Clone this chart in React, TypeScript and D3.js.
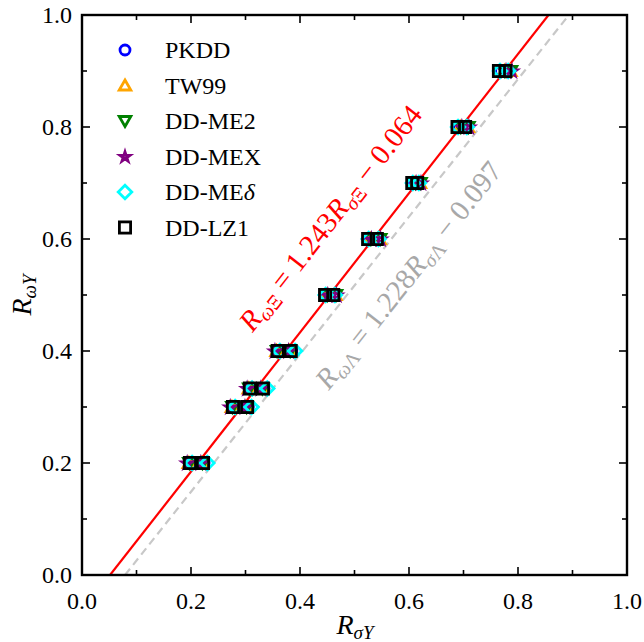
import React from "react";
import * as d3 from "d3";

const levelsY = [0.2, 0.3, 0.333, 0.4, 0.5, 0.6, 0.7, 0.8, 0.9];

const models = ["PKDD", "TW99", "DD-ME2", "DD-MEX", "DD-MEδ", "DD-LZ1"];
const colors = ["#0000ff", "#ffa500", "#008000", "#800080", "#00ffff", "#000000"];
const shapes = ["circle", "triangle", "triangleDown", "star", "diamond", "square"];

const xiPKDD = [0.200, 0.279, 0.310, 0.361, 0.448, 0.527, 0.608, 0.691, 0.768];
const laPKDD = [0.224, 0.305, 0.334, 0.385, 0.463, 0.543, 0.617, 0.705, 0.779];
const xiTW99 = [0.196, 0.275, 0.306, 0.357, 0.449, 0.529, 0.611, 0.694, 0.775];
const laTW99 = [0.220, 0.301, 0.330, 0.381, 0.465, 0.546, 0.620, 0.708, 0.786];
const xiME2 = [0.197, 0.276, 0.307, 0.358, 0.450, 0.530, 0.612, 0.695, 0.776];
const laME2 = [0.221, 0.302, 0.331, 0.382, 0.466, 0.547, 0.621, 0.709, 0.787];
const xiMEX = [0.193, 0.272, 0.303, 0.354, 0.451, 0.531, 0.613, 0.697, 0.778];
const laMEX = [0.218, 0.299, 0.328, 0.379, 0.467, 0.548, 0.622, 0.710, 0.789];
const xiMEd = [0.202, 0.281, 0.312, 0.363, 0.447, 0.526, 0.607, 0.690, 0.767];
const laMEd = [0.230, 0.311, 0.340, 0.391, 0.464, 0.544, 0.618, 0.706, 0.782];
const xiLZ1 = [0.198, 0.277, 0.308, 0.359, 0.446, 0.525, 0.606, 0.689, 0.765];
const laLZ1 = [0.222, 0.303, 0.332, 0.383, 0.461, 0.541, 0.615, 0.703, 0.777];

const seriesXi = [xiPKDD, xiTW99, xiME2, xiMEX, xiMEd, xiLZ1];
const seriesLa = [laPKDD, laTW99, laME2, laMEX, laMEd, laLZ1];

const fitXi = { slope: 1.243, intercept: -0.064 };
const fitLa = { slope: 1.228, intercept: -0.097 };

const majorTicks = [0, 0.2, 0.4, 0.6, 0.8, 1.0];
const minorTicks = [0.1, 0.3, 0.5, 0.7, 0.9];

const W = 644, H = 642;
const L = 82, R = 627, T = 15, B = 575;
const FONT = "'Liberation Serif', 'Times New Roman', serif";

const x = d3.scaleLinear().domain([0, 1]).range([L, R]);
const y = d3.scaleLinear().domain([0, 1]).range([B, T]);

function Marker({ shape, cx, cy, color }: any) {
  const sw = 2.8;
  const common = { fill: "none", stroke: color, strokeWidth: sw, strokeLinejoin: "miter" as const };
  if (shape === "circle") return <circle cx={cx} cy={cy} r={5.0} {...common} />;
  if (shape === "square") return <rect x={cx - 5.6} y={cy - 5.6} width={11.2} height={11.2} {...common} />;
  if (shape === "diamond") {
    const d = 6.8;
    return <path d={`M${cx},${cy - d}L${cx + d},${cy}L${cx},${cy + d}L${cx - d},${cy}Z`} {...common} />;
  }
  if (shape === "triangle" || shape === "triangleDown") {
    const s = shape === "triangle" ? 1 : -1;
    const h = 5.5;
    return <path d={`M${cx},${cy - s * h}L${cx + 5.8},${cy + s * (h - 1)}L${cx - 5.8},${cy + s * (h - 1)}Z`} {...common} />;
  }
  const p = d3.symbol().type(d3.symbolStar).size(30)()!;
  return <path d={p} transform={`translate(${cx},${cy + 0.5})`} {...common} />;
}

export default function App() {
  const lineXi = [0, 1].map((yy) => [(yy - fitXi.intercept) / fitXi.slope, yy]);
  const lineLa = [0, 1].map((yy) => [(yy - fitLa.intercept) / fitLa.slope, yy]);

  const tickEls: any[] = [];
  majorTicks.forEach((t, i) => {
    tickEls.push(<line key={"xb" + i} x1={x(t)} x2={x(t)} y1={B} y2={B - 8} />);
    tickEls.push(<line key={"xt" + i} x1={x(t)} x2={x(t)} y1={T} y2={T + 8} />);
    tickEls.push(<line key={"yl" + i} x1={L} x2={L + 8} y1={y(t)} y2={y(t)} />);
    tickEls.push(<line key={"yr" + i} x1={R} x2={R - 8} y1={y(t)} y2={y(t)} />);
  });
  minorTicks.forEach((t, i) => {
    tickEls.push(<line key={"mxb" + i} x1={x(t)} x2={x(t)} y1={B} y2={B - 5} />);
    tickEls.push(<line key={"mxt" + i} x1={x(t)} x2={x(t)} y1={T} y2={T + 5} />);
    tickEls.push(<line key={"myl" + i} x1={L} x2={L + 5} y1={y(t)} y2={y(t)} />);
    tickEls.push(<line key={"myr" + i} x1={R} x2={R - 5} y1={y(t)} y2={y(t)} />);
  });

  const angXi = -Math.atan((fitXi.slope * (B - T)) / (R - L)) * 180 / Math.PI;
  const angLa = -Math.atan((fitLa.slope * (B - T)) / (R - L)) * 180 / Math.PI;

  return (
    <svg width={W} height={H} style={{ position: "absolute", left: 0, top: 0, background: "#fff" }} fontFamily={FONT}>
      <defs>
        <clipPath id="plotclip">
          <rect x={L} y={T} width={R - L} height={B - T} />
        </clipPath>
      </defs>
      <g clipPath="url(#plotclip)">
        <line x1={x(lineLa[0][0])} y1={y(lineLa[0][1])} x2={x(lineLa[1][0])} y2={y(lineLa[1][1])}
          stroke="#c8c8c8" strokeWidth={2.2} strokeDasharray="8,5" />
        <line x1={x(lineXi[0][0])} y1={y(lineXi[0][1])} x2={x(lineXi[1][0])} y2={y(lineXi[1][1])}
          stroke="#ff0000" strokeWidth={2.2} />
      </g>

      {models.map((m, mi) => (
        <g key={m}>
          {levelsY.map((yy, k) => (
            <g key={k}>
              <Marker shape={shapes[mi]} cx={x(seriesXi[mi][k])} cy={y(yy)} color={colors[mi]} />
              <Marker shape={shapes[mi]} cx={x(seriesLa[mi][k])} cy={y(yy)} color={colors[mi]} />
            </g>
          ))}
        </g>
      ))}

      {/* annotations */}
      <text transform={`translate(338,224) rotate(${angXi})`} textAnchor="middle" fill="#ff0000" fontSize={29}>
        <tspan fontStyle="italic">R</tspan>
        <tspan fontSize={20} dy={5}><tspan fontStyle="italic">ω</tspan>Ξ</tspan>
        <tspan dy={-5}> = 1.243</tspan>
        <tspan fontStyle="italic">R</tspan>
        <tspan fontSize={20} dy={5}><tspan fontStyle="italic">σ</tspan>Ξ</tspan>
        <tspan dy={-5}> − 0.064</tspan>
      </text>
      <text transform={`translate(416,281) rotate(${angLa})`} textAnchor="middle" fill="#a8a8a8" fontSize={29}>
        <tspan fontStyle="italic">R</tspan>
        <tspan fontSize={20} dy={5}><tspan fontStyle="italic">ω</tspan>Λ</tspan>
        <tspan dy={-5}> = 1.228</tspan>
        <tspan fontStyle="italic">R</tspan>
        <tspan fontSize={20} dy={5}><tspan fontStyle="italic">σ</tspan>Λ</tspan>
        <tspan dy={-5}> − 0.097</tspan>
      </text>

      {/* legend */}
      {models.map((m, mi) => (
        <g key={"lg" + m}>
          <Marker shape={shapes[mi]} cx={125} cy={50 + mi * 35.5} color={colors[mi]} />
          <text x={165} y={50 + mi * 35.5 + 8} fontSize={24} fill="#000">
            {m === "DD-MEδ" ? (<>DD-ME<tspan fontStyle="italic">δ</tspan></>) : m}
          </text>
        </g>
      ))}

      {/* frame and ticks */}
      <g stroke="#000" strokeWidth={1.6}>{tickEls}</g>
      <rect x={L} y={T} width={R - L} height={B - T} fill="none" stroke="#000" strokeWidth={2.4} />

      {majorTicks.map((t, i) => (
        <text key={"xl" + i} x={x(t)} y={609} textAnchor="middle" fontSize={24} fill="#000">{t.toFixed(1)}</text>
      ))}
      {majorTicks.map((t, i) => (
        <text key={"yl" + i} x={72} y={y(t) + 8} textAnchor="end" fontSize={24} fill="#000">{t.toFixed(1)}</text>
      ))}

      <text x={355} y={634} textAnchor="middle" fontSize={28} fill="#000">
        <tspan fontStyle="italic">R</tspan>
        <tspan fontSize={19} dy={5} fontStyle="italic">σY</tspan>
      </text>
      <text transform="translate(31,295) rotate(-90)" textAnchor="middle" fontSize={28} fill="#000">
        <tspan fontStyle="italic">R</tspan>
        <tspan fontSize={19} dy={5} fontStyle="italic">ωY</tspan>
      </text>
    </svg>
  );
}
